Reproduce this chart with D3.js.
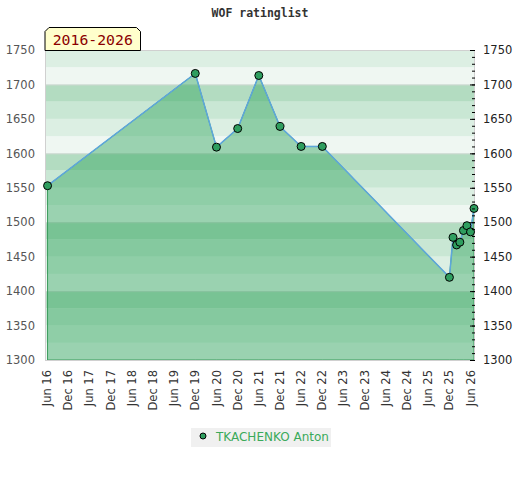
<!DOCTYPE html>
<html>
<head>
<meta charset="UTF-8">
<title>WOF ratinglist</title>
<style>
  body { margin: 0; background: #fff; }
  text { font-family: "DejaVu Sans", sans-serif; }
</style>
</head>
<body>
<svg width="520" height="480"></svg>
<script src="https://cdn.jsdelivr.net/npm/d3@7"></script>
<script>
// data
var dates = ["2016-06-05", "2019-12-01", "2020-06-01", "2020-12-01", "2021-06-01",
             "2021-12-01", "2022-06-01", "2022-12-01", "2025-12-01", "2026-01-01",
             "2026-02-01", "2026-03-01", "2026-04-01", "2026-05-01", "2026-06-01",
             "2026-07-01"];
var ratings = [1553, 1716, 1609, 1636, 1713, 1639, 1610, 1610, 1420, 1478,
               1467, 1471, 1488, 1495, 1486, 1520];
var yTicks = [1300, 1350, 1400, 1450, 1500, 1550, 1600, 1650, 1700, 1750];
var xTickDates = ["2016-06-01", "2016-12-01", "2017-06-01", "2017-12-01", "2018-06-01",
                  "2018-12-01", "2019-06-01", "2019-12-01", "2020-06-01", "2020-12-01",
                  "2021-06-01", "2021-12-01", "2022-06-01", "2022-12-01", "2023-06-01",
                  "2023-12-01", "2024-06-01", "2024-12-01", "2025-06-01", "2025-12-01",
                  "2026-06-01"];
var playerName = "TKACHENKO Anton";
var periodLabel = "2016-2026";

var parse = d3.timeParse("%Y-%m-%d");
var data = dates.map(function(d, i){ return {date: parse(d), value: ratings[i]}; });

var svg = d3.select("svg"),
    pLeft = 45, pRight = 475, pTop = 50, pBottom = 360;

var x = d3.scaleTime()
    .domain([parse("2016-05-14"), parse("2026-07-01")])
    .range([pLeft, 474]);
var y = d3.scaleLinear().domain([1300, 1750]).range([pBottom, pTop]);

// background bands, 25 points each, repeating every 100
var bandColors = ["#eff7f2", "#dcefe3", "#c9e7d4", "#b3dcc1"];
var bands = d3.range(1300, 1750, 25);
svg.append("g").selectAll("rect")
    .data(bands)
    .enter().append("rect")
    .attr("x", pLeft)
    .attr("width", pRight - pLeft)
    .attr("y", function(d){ return y(d + 25); })
    .attr("height", function(d){ return y(d) - y(d + 25); })
    .attr("fill", function(d){ return bandColors[((d - 1300) / 25) % 4]; });

svg.append("g").selectAll("line")
    .data([1400, 1500, 1600, 1700])
    .enter().append("line")
    .attr("x1", pLeft).attr("x2", pRight)
    .attr("y1", function(d){ return y(d) + 0.5; })
    .attr("y2", function(d){ return y(d) + 0.5; })
    .attr("stroke", "#cfd8d2");

// area + line
var area = d3.area()
    .x(function(d){ return x(d.date); })
    .y0(y(1300))
    .y1(function(d){ return y(d.value); });
svg.append("path")
    .datum(data)
    .attr("d", area)
    .attr("fill", "#2ea45c")
    .attr("fill-opacity", 0.44)
    .attr("stroke", "#3a9c5c")
    .attr("stroke-width", 1);

var line = d3.line()
    .x(function(d){ return x(d.date); })
    .y(function(d){ return y(d.value); });
svg.append("path")
    .datum(data)
    .attr("d", line)
    .attr("fill", "none")
    .attr("stroke", "#5ea6dc")
    .attr("stroke-width", 1.5);

// plot frame
svg.append("rect")
    .attr("x", pLeft + 0.5).attr("y", pTop + 0.5)
    .attr("width", pRight - pLeft - 1).attr("height", pBottom - pTop)
    .attr("fill", "none")
    .attr("stroke", "#d0d0d0");

svg.selectAll(".pt")
    .data(data)
    .enter().append("circle")
    .attr("class", "pt")
    .attr("cx", function(d){ return x(d.date); })
    .attr("cy", function(d){ return y(d.value); })
    .attr("r", 4)
    .attr("fill", "#2f9e5f")
    .attr("stroke", "#000")
    .attr("stroke-width", 1);

// left axis labels
var yl = svg.append("g")
    .attr("transform", "translate(" + pLeft + ",0)")
    .call(d3.axisLeft(y).tickValues(yTicks).tickSize(0).tickPadding(10).tickFormat(d3.format("d")));
yl.select(".domain").remove();
yl.selectAll("text").attr("fill", "#555").style("font-size", "11.5px");

// right axis: ticks inside, labels outside
var yr = svg.append("g")
    .attr("transform", "translate(" + pRight + ",0)")
    .call(d3.axisRight(y).tickValues(yTicks).tickSize(0).tickPadding(8).tickFormat(d3.format("d")));
yr.select(".domain").remove();
yr.selectAll("text").attr("fill", "#222").style("font-size", "11.5px");

var ym = svg.append("g")
    .attr("transform", "translate(" + pRight + ",0)")
    .call(d3.axisLeft(y).ticks(45).tickSize(3).tickFormat(""));
ym.select(".domain").remove();
ym.selectAll("line").attr("stroke", "#000");
var yM = svg.append("g")
    .attr("transform", "translate(" + pRight + ",0)")
    .call(d3.axisLeft(y).tickValues(yTicks).tickSize(5).tickFormat(""));
yM.select(".domain").remove();
yM.selectAll("line").attr("stroke", "#000");

// x labels
var fmt = d3.timeFormat("%b %y");
svg.append("g").selectAll("text")
    .data(xTickDates.map(parse))
    .enter().append("text")
    .attr("transform", function(d){ return "translate(" + x(d) + ",370) rotate(-90)"; })
    .attr("text-anchor", "end")
    .attr("dy", "0.35em")
    .attr("fill", "#333")
    .style("font-size", "11.5px")
    .text(fmt);

// title
svg.append("text")
    .attr("x", 260).attr("y", 17)
    .attr("text-anchor", "middle")
    .style("font-family", "'DejaVu Sans Mono', monospace")
    .style("font-weight", "bold")
    .style("font-size", "11.5px")
    .attr("fill", "#333")
    .text("WOF ratinglist");

// period badge
var bx0 = 45, bx1 = 140.5, by0 = 27.5, by1 = 50.5, c = 4;
svg.append("path")
    .attr("d", "M" + bx0 + "," + by1 + "L" + bx0 + "," + (by0 + c) + "L" + (bx0 + c) + "," + by0 +
               "L" + (bx1 - c) + "," + by0 + "L" + bx1 + "," + (by0 + c) + "L" + bx1 + "," + by1 + "Z")
    .attr("fill", "#ffffcc")
    .attr("stroke", "#000");
svg.append("text")
    .attr("x", (bx0 + bx1) / 2).attr("y", 45)
    .attr("text-anchor", "middle")
    .style("font-family", "'DejaVu Sans Mono', monospace")
    .style("font-size", "14.8px")
    .attr("fill", "#8b0000")
    .text(periodLabel);

// legend
var lg = svg.append("g").attr("transform", "translate(191,428)");
lg.append("rect").attr("width", 140).attr("height", 19).attr("fill", "#f0f0f0");
lg.append("circle").attr("cx", 12).attr("cy", 8).attr("r", 3)
    .attr("fill", "#2f9e5f").attr("stroke", "#000");
lg.append("text").attr("x", 25).attr("y", 12.5)
    .attr("fill", "#3aaa5a")
    .style("font-size", "12px")
    .text(playerName);
</script>
</body>
</html>
